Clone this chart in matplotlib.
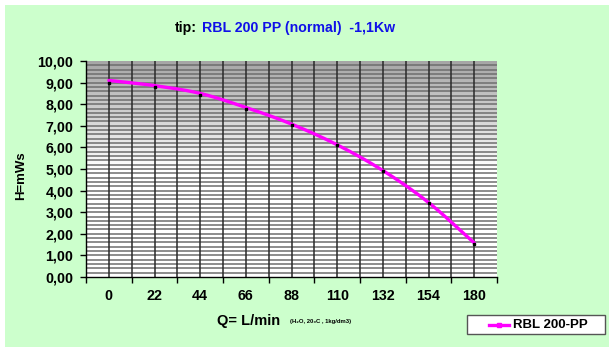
import numpy as np
import matplotlib
matplotlib.use("Agg")
import matplotlib.pyplot as plt
from matplotlib.patches import Rectangle
from matplotlib.lines import Line2D
from matplotlib.colors import LinearSegmentedColormap

# ---- data ----
categories = ["0", "22", "44", "66", "88", "110", "132", "154", "180"]
points_h = [8.97, 8.78, 8.43, 7.78, 7.04, 6.11, 4.91, 3.43, 1.55]
curve_h = [9.10, 8.86, 8.50, 7.85, 7.08, 6.12, 4.93, 3.45, 1.58]
yticks = [0, 1, 2, 3, 4, 5, 6, 7, 8, 9, 10]
series_name = "RBL 200-PP"

W, H = 614, 355
fig = plt.figure(figsize=(W / 100, H / 100), dpi=100, facecolor="white")
FONT = "Liberation Sans"
plt.rcParams["font.family"] = [FONT, "DejaVu Sans"]

def fx(x):
    return x / W

def fy(y):
    return 1 - y / H

# green chart area
fig.patches.append(Rectangle((fx(5), fy(347)), fx(609) - fx(5), fy(5) - fy(347),
                             transform=fig.transFigure, facecolor="#ccffcc",
                             edgecolor="none", zorder=-10))

ax = fig.add_axes([fx(86), fy(277), fx(497) - fx(86), fy(61) - fy(277)])
ax.set_zorder(1)
ax.patch.set_alpha(0)
n = len(categories)
x = np.arange(n)
ax.set_xlim(-0.5, n - 0.5)
ax.set_ylim(0, 10)

# gradient background
cmap = LinearSegmentedColormap.from_list("g", ["#ffffff", "#ffffff", "#a6a6a6"])
grad = np.linspace(0, 1, 256)[:, None]
ax.imshow(grad, extent=[-0.5, n - 0.5, 0, 10], origin="lower", aspect="auto",
          cmap=cmap, zorder=0)

# horizontal minor grid
for yv in np.arange(0.2, 10.0, 0.2):
    ax.axhline(yv, color="#6e6e6e", lw=1.1, zorder=1)
# vertical grid at half categories
for xv in np.arange(0, n - 0.5, 0.5):
    ax.axvline(xv, color="#2a2a2a", lw=1.1, zorder=1)

# smoothed curve (Catmull-Rom through curve values)
def catmull(xs, ys, m=20):
    xs = np.asarray(xs, float); ys = np.asarray(ys, float)
    P = np.column_stack([xs, ys])
    P = np.vstack([2 * P[0] - P[1], P, 2 * P[-1] - P[-2]])
    out = []
    t = np.linspace(0, 1, m)
    for i in range(1, len(P) - 2):
        p0, p1, p2, p3 = P[i - 1], P[i], P[i + 1], P[i + 2]
        seg = 0.5 * ((2 * p1)[None, :] + (-p0 + p2)[None, :] * t[:, None]
                     + (2 * p0 - 5 * p1 + 4 * p2 - p3)[None, :] * t[:, None] ** 2
                     + (-p0 + 3 * p1 - 3 * p2 + p3)[None, :] * t[:, None] ** 3)
        out.append(seg)
    return np.vstack(out)

cur = catmull(x, curve_h)
ax.plot(cur[:, 0], cur[:, 1], color="#ff00ff", lw=2.4, zorder=3, solid_capstyle="round")
ax.plot(x, points_h, ls="none", marker="s", ms=2.0, color="black", zorder=4)

ax.set_yticks(yticks)
ax.set_yticklabels([f"{v:.2f}".replace(".", ",") for v in yticks])
ax.set_xticks(x)
ax.set_xticklabels(categories)
ax.set_xticks(np.arange(-0.5, n, 1.0), minor=True)
ax.tick_params(axis="x", which="major", length=0, pad=9)
ax.tick_params(axis="x", which="minor", length=4, width=1, direction="out")
ax.tick_params(axis="y", length=4, width=1, direction="out", pad=5)
for lab in ax.get_xticklabels() + ax.get_yticklabels():
    lab.set_fontweight("bold")
    lab.set_fontsize(10.3)
for s in ["top", "right"]:
    ax.spines[s].set_visible(False)
for s in ["left", "bottom"]:
    ax.spines[s].set_color("black")
    ax.spines[s].set_linewidth(1)
    ax.spines[s].set_zorder(5)

# title
fig.text(fx(175), fy(28), "tip:", ha="left", va="center", fontsize=10.2,
         fontweight="bold", color="black")
fig.text(fx(202), fy(28), "RBL 200 PP (normal)  -1,1Kw", ha="left", va="center",
         fontsize=10.2, fontweight="bold", color="#1010e8")

# axis labels
fig.text(fx(21), fy(176), "H=mWs", rotation=90, ha="center", va="center",
         fontsize=9.5, fontweight="bold")
fig.text(fx(217), fy(321), "Q= L/min", ha="left", va="center", fontsize=10.5,
         fontweight="bold")
fig.text(fx(290), fy(322), "(H\u2082O, 20\u2080C , 1kg/dm3)", ha="left", va="center",
         fontsize=4.2, fontweight="bold")

# legend
fig.patches.append(Rectangle((fx(467), fy(334)), fx(605) - fx(467), fy(315) - fy(334),
                             transform=fig.transFigure, facecolor="white",
                             edgecolor="#555555", lw=1, zorder=2))
fig.lines.append(Line2D([fx(489), fx(509)], [fy(324.5), fy(324.5)],
                        transform=fig.transFigure, color="#ff00ff", lw=2.4, zorder=3))
fig.lines.append(Line2D([fx(499)], [fy(324.5)], transform=fig.transFigure,
                        color="#ff00ff", marker="s", ms=3, zorder=3))
fig.text(fx(513), fy(324.5), series_name, ha="left", va="center", fontsize=9.5,
         fontweight="bold", zorder=4)

fig.savefig("out.png", dpi=100, facecolor="white")
